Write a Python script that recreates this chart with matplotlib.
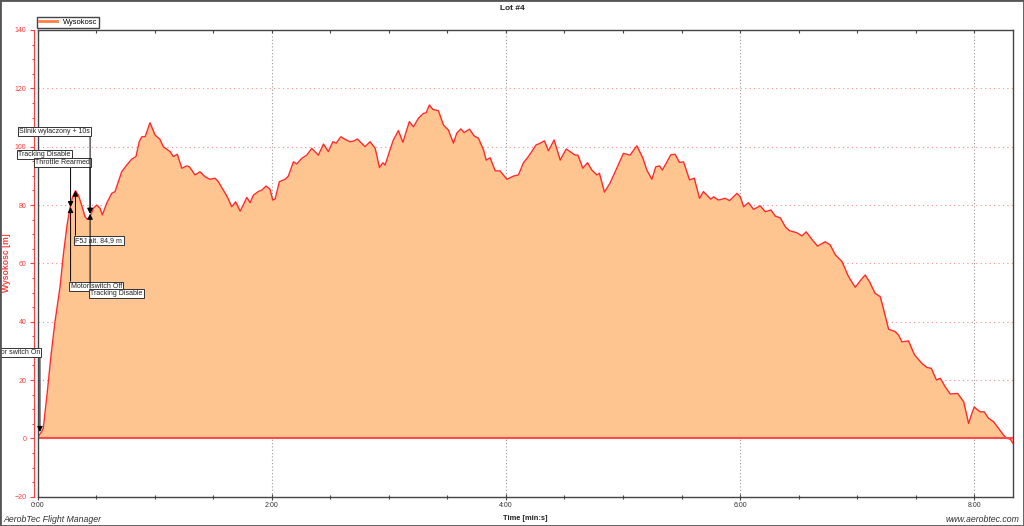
import matplotlib
matplotlib.use("Agg")
import matplotlib.pyplot as plt
from matplotlib.ticker import MultipleLocator, FuncFormatter
from matplotlib.lines import Line2D
from matplotlib.patches import Rectangle

plt.rcParams['font.family'] = ['Liberation Sans', 'DejaVu Sans']

# ---- data: time [s], altitude [m] ----
time_s = [0.0, 1.0, 2.0, 2.9, 4.8, 6.9, 8.9, 11.5, 13.3, 15.1, 16.6, 17.9, 19.4,
          20.9, 22.6, 24.3, 25.5, 26.9, 28.6, 30.3, 32.0, 33.2, 35.4, 38.0, 39.7,
          43.1, 45.7, 48.2, 50.4, 52.1, 53.4, 55.1, 57.6, 60.2, 62.7, 64.4, 67.9,
          69.6, 71.6, 73.9, 76.4, 77.8, 80.7, 83.2, 85.8, 88.4, 90.9, 92.6, 95.2,
          97.2, 99.5, 101.5, 103.8, 105.4, 107.2, 108.9, 110.6, 113.1, 114.9, 117.1,
          119.1, 120.5, 121.7, 123.9, 126.8, 128.5, 131.1, 132.8, 135.4, 137.9,
          140.5, 143.9, 146.5, 149.0, 151.3, 153.0, 155.4, 157.6, 160.1, 161.8,
          163.9, 167.8, 170.4, 173.0, 175.2, 176.9, 178.1, 180.3, 182.3, 184.9,
          187.2, 190.5, 192.6, 195.1, 197.7, 199.1, 200.8, 202.5, 205.4, 208.0,
          210.5, 213.1, 214.8, 216.9, 218.6, 221.3, 223.7, 225.9, 228.5, 229.9,
          231.9, 234.5, 237.0, 240.5, 243.8, 246.4, 249.0, 251.5, 253.8, 255.5,
          257.6, 259.7, 261.8, 264.7, 267.8, 270.9, 272.9, 275.5, 276.9, 279.4,
          281.8, 284.0, 286.6, 287.9, 290.5, 293.4, 296.8, 300.2, 303.6, 307.1,
          310.2, 312.2, 314.8, 316.8, 318.7, 320.2, 322.5, 324.5, 326.7, 328.9,
          331.0, 334.1, 336.5, 339.2, 341.2, 345.0, 346.4, 348.9, 352.4, 354.6,
          358.4, 360.1, 361.8, 364.3, 366.9, 370.3, 372.9, 375.8, 378.0, 380.6,
          383.1, 385.3, 389.1, 391.7, 393.9, 396.8, 399.7, 403.6, 406.2, 408.8,
          412.2, 415.6, 419.0, 421.9, 424.1, 426.3, 429.2, 431.8, 433.2, 436.1,
          439.5, 441.2, 442.9, 446.3, 449.4, 453.2, 455.8, 458.0, 460.6, 462.6,
          465.1, 467.7, 471.5, 474.6, 477.1, 478.5, 480.0, 481.4, 483.1, 485.1,
          487.3, 489.9, 492.5, 495.0, 496.8, 498.5, 499.8]
altitude_m = [0.0, 1.3, 2.2, 3.4, 14.8, 28.6, 39.9, 51.9, 63.5, 73.1, 79.0, 82.7, 84.9,
              83.4, 79.9, 76.0, 75.1, 76.0, 78.9, 80.0, 78.9, 76.6, 80.6, 84.0, 84.6,
              91.4, 93.7, 95.7, 96.6, 101.7, 103.4, 103.4, 108.2, 104.0, 102.5, 100.0, 98.3,
              96.6, 97.4, 92.6, 93.4, 93.1, 90.3, 91.4, 89.7, 88.8, 89.2, 88.0, 85.1,
              82.8, 79.4, 81.1, 77.9, 80.0, 82.6, 80.8, 83.4, 84.6, 85.1, 86.5,
              85.4, 81.7, 82.0, 88.0, 88.8, 89.9, 94.8, 94.1, 96.0, 97.1,
              99.4, 97.1, 100.9, 98.3, 101.7, 101.2, 103.4, 102.5, 101.7, 101.9,
              102.6, 100.0, 101.7, 99.4, 92.8, 94.5, 93.7, 98.3, 102.3, 105.5,
              101.5, 108.6, 106.8, 109.7, 111.4, 111.6, 114.3, 112.8, 112.3, 107.4,
              105.7, 101.2, 104.6, 106.1, 104.8, 106.0, 103.7, 102.9, 98.9, 95.4,
              96.2, 91.7, 91.7, 88.8, 89.9, 90.3, 94.5, 96.6, 98.9, 100.6,
              101.2, 102.0, 98.6, 102.3, 95.4, 99.2, 98.3, 97.1, 97.1, 92.6,
              94.5, 92.0, 90.3, 90.9, 84.4, 87.6, 92.6, 97.7, 97.1, 100.3,
              96.0, 92.0, 88.8, 93.1, 93.4, 92.0, 94.8, 97.2, 97.4, 94.6,
              94.8, 88.6, 89.2, 82.3, 84.6, 82.0, 82.8, 81.7, 82.3, 81.5,
              84.0, 82.8, 79.4, 80.8, 78.5, 79.7, 77.7, 78.3, 76.2, 75.6,
              72.6, 71.2, 70.5, 69.4, 70.8, 68.2, 65.9, 67.4, 66.3, 62.9,
              60.6, 55.4, 51.8, 54.3, 56.0, 53.7, 49.7, 48.6, 45.1, 37.4,
              36.6, 35.4, 33.1, 33.4, 28.6, 25.7, 24.3, 24.0, 20.0, 20.6,
              17.7, 15.2, 15.4, 12.5, 5.1, 8.0, 10.8, 9.9, 9.1, 9.1,
              6.9, 5.7, 3.4, 1.1, 0.0, -0.3, -1.7]

series_name = "Wysokosc"
chart_title = "Lot #4"

# events: label, time [s], altitude [m] pointed at
event_labels = ["Motor switch On", "Tracking Disable", "Throttle Rearmed",
                "Silnik wylaczony + 10s", "Motor switch Off", "F5J alt. 84,9 m",
                "Tracking Disable"]
event_times = [1.2, 16.9, 26.9, 26.9, 16.9, 19.4, 26.9]
event_alts = [2.2, 79.3, 77.0, 77.0, 79.3, 84.9, 77.0]

# ---- layout (box anchor altitude, side) ----
box_alt = [28.2, 96.1, 93.4, 104.0, 53.3, 69.0, 50.9]
box_above = [True, True, True, True, False, False, False]

W, H = 1024, 526
fig = plt.figure(figsize=(W / 100, H / 100), dpi=100)
ax = fig.add_axes([37.6 / W, 1 - 496.7 / H, 975.7 / W, 466.7 / H])

RED = '#FF3B3B'
ax.fill_between(time_s, altitude_m, 0, color='#FFC590', lw=0, zorder=2)
ax.plot(time_s, altitude_m, color='#FF2A2A', lw=1.0, zorder=3)
ax.axhline(0, color='#FF4A4A', lw=1.5, zorder=3)

ax.set_xlim(0, 500)
ax.set_ylim(-20, 140)

# grid
for y in range(20, 140, 20):
    ax.axhline(y, color='#FF8A8A', lw=0.8, ls=(0, (1, 3)), zorder=1)
for x in range(120, 500, 120):
    ax.axvline(x, color='#999999', lw=0.8, ls=(0, (1, 2)), zorder=1)

# spines
for s in ['top', 'right', 'bottom']:
    ax.spines[s].set_color('#444444')
    ax.spines[s].set_linewidth(1.0)
ax.spines['left'].set_color(RED)
ax.spines['left'].set_position(('outward', 2.6))
ax.plot([0, 0], [-20, 140], color='#444444', lw=1.0, clip_on=False, zorder=5)

ax.yaxis.set_major_locator(MultipleLocator(20))
ax.yaxis.set_minor_locator(MultipleLocator(5))
ax.tick_params(axis='y', which='major', colors=RED, labelsize=5.0, length=3, width=0.8,
               direction='out', pad=2.5)
ax.tick_params(axis='y', which='minor', colors=RED, length=1.8, width=0.8, direction='out')

ax.xaxis.set_major_locator(MultipleLocator(120))
ax.xaxis.set_minor_locator(MultipleLocator(30))
ax.xaxis.set_major_formatter(FuncFormatter(lambda v, p: f"{int(v // 60)}:{int(v % 60):02d}"))
ax.tick_params(axis='x', which='major', colors='#444444', labelcolor='#333333',
               labelsize=5.0, length=4, width=0.8, direction='inout', pad=2)
ax.tick_params(axis='x', which='minor', colors='#444444', length=3, width=0.8,
               direction='inout')
sec = ax.secondary_xaxis('top')
sec.xaxis.set_major_locator(MultipleLocator(30))
sec.tick_params(direction='in', length=2, width=0.8, colors='#444444', labeltop=False)
sec.spines['top'].set_visible(False)

# annotations
bbox = dict(boxstyle='square,pad=0.2', fc='white', ec='#333333', lw=0.7)
for lab, t, a, ba, above in zip(event_labels, event_times, event_alts, box_alt, box_above):
    ax.annotate(lab, xy=(t, a), xytext=(t, ba),
                ha='right' if above else 'left', va='bottom' if above else 'top',
                fontsize=5, color='#222222', bbox=bbox, annotation_clip=False,
                arrowprops=dict(arrowstyle='-|>', color='black', lw=0.7,
                                mutation_scale=8, shrinkA=0, shrinkB=0,
                                relpos=(1, 0) if above else (0, 1)),
                zorder=6)

# texts
fig.text(0.5, 1 - 8 / H, chart_title, ha='center', va='center', fontsize=6,
         fontweight='bold', color='#222222')
fig.text(7 / W, 1 - 263 / H, "Wysokosc [m]", rotation=90, ha='center', va='center',
         fontsize=6.2, fontweight='bold', color=RED)
fig.text(525.5 / W, 1 - 518 / H, "Time [min:s]", ha='center', va='center',
         fontsize=5.4, fontweight='bold', color='#222222')
fig.text(3 / W, 1 - 520 / H, "AerobTec Flight Manager", ha='left', va='center',
         fontsize=6.3, style='italic', color='#333333')
fig.text(1019 / W, 1 - 520 / H, "www.aerobtec.com", ha='right', va='center',
         fontsize=6.3, style='italic', color='#333333')

handle = Line2D([], [], color='#FF8040', lw=2)
fig.legend([handle], [series_name], loc='lower left',
           bbox_to_anchor=(37 / W, 1 - 27.5 / H), fontsize=5.4, handlelength=2.4,
           borderpad=0.25, handletextpad=0.8, fancybox=False, edgecolor='#444444',
           framealpha=1, borderaxespad=0)

fig.patches.append(Rectangle((0, 0), 1, 1, transform=fig.transFigure, fill=False,
                             ec='#555555', lw=2))

fig.savefig('out.png', dpi=100)
